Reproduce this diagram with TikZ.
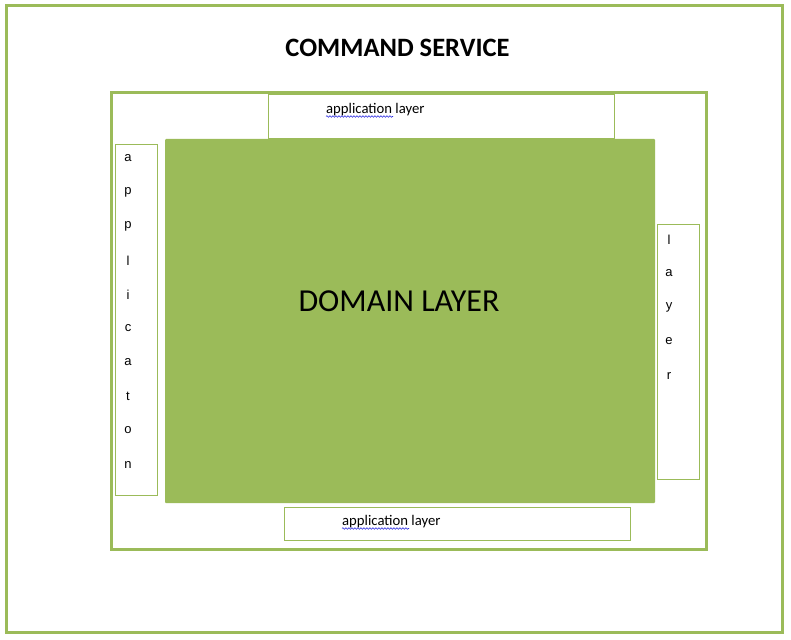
\documentclass[tikz,border=0pt]{standalone}
\usepackage{fontspec}
\setmainfont{Carlito}
\newfontfamily\letterfont{Liberation Sans}
\usetikzlibrary{decorations.pathmorphing}
\definecolor{olivegreen}{HTML}{9BBB59}
\definecolor{spellblue}{HTML}{2A2AE0}
\begin{document}
\begin{tikzpicture}[x=1pt,y=-1pt,
  thickframe/.style={draw=olivegreen,line width=3pt,fill=white,inner sep=0pt,outer sep=0pt},
  thinbox/.style={draw=olivegreen,line width=1pt,fill=white,inner sep=0pt,outer sep=0pt},
  domainfill/.style={fill=olivegreen,rounded corners=1pt,inner sep=0pt,outer sep=0pt},
  smalltext/.style={font=\fontsize{14.7}{17}\selectfont,inner sep=0pt,anchor=west},
  letter/.style={font=\letterfont\fontsize{13}{15}\selectfont,inner sep=0pt},
  squiggle/.style={draw=spellblue,line width=0.6pt,decorate,decoration={snake,amplitude=0.8pt,segment length=3pt}}
]
\useasboundingbox (0,0) rectangle (791,639);
\node[thickframe,minimum width=776pt,minimum height=626pt] (outer) at (394,319) {};
\node[font=\bfseries\fontsize{26.5}{30}\selectfont,inner sep=0pt] (title) at (397.5,47.5) {COMMAND SERVICE};
\node[thickframe,minimum width=595pt,minimum height=456pt] (inner) at (408.5,321) {};
\node[thinbox,minimum width=346pt,minimum height=44pt] (topbox) at (441,117) {};
\node[thinbox,minimum width=346pt,minimum height=33pt] (bottombox) at (457,523.5) {};
\node[thinbox,minimum width=42pt,minimum height=350pt] (leftbox) at (136,320) {};
\node[thinbox,minimum width=42pt,minimum height=255pt] (rightbox) at (678,351.5) {};
\node[domainfill,minimum width=490pt,minimum height=364pt] (dom) at (410,321) {};
\node[font=\fontsize{32}{36}\selectfont,inner sep=0pt] (domtext) at (399,301.5) {DOMAIN LAYER};
\node[smalltext] (toptext) at (326,110) {application layer};
\node[smalltext] (bottomtext) at (342,522) {application layer};
\coordinate (sq1a) at (326,116.5); \coordinate (sq1b) at (393,116.5);
\coordinate (sq2a) at (342,528.5); \coordinate (sq2b) at (409,528.5);
\draw[squiggle] (sq1a) -- (sq1b);
\draw[squiggle] (sq2a) -- (sq2b);
\foreach \ch [count=\i] in {a,p,p,l,i,c,a,t,o,n}
  \node[letter] (L\i) at (128,{158.5+(\i-1)*34}) {\ch};
\foreach \ch [count=\i] in {l,a,y,e,r}
  \node[letter] (R\i) at (669,{239.5+(\i-1)*34}) {\ch};
\end{tikzpicture}
\end{document}
